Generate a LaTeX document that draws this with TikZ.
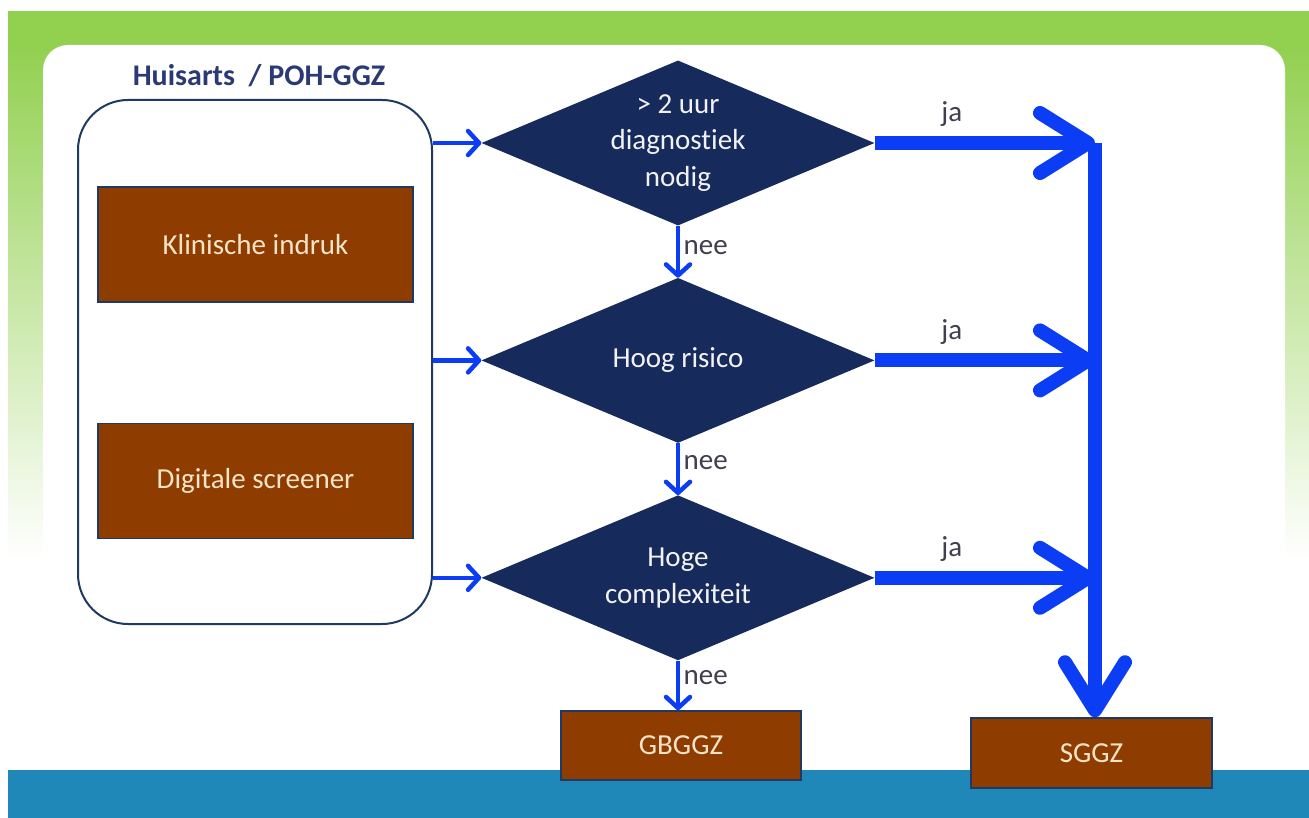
\documentclass[tikz,border=0pt]{standalone}
\usepackage{fontspec}
\setmainfont{Carlito}[Ligatures=NoCommon]
\usepackage{tikz}
\usetikzlibrary{arrows.meta}
\usetikzlibrary{shapes.geometric}
\usetikzlibrary{positioning}

\definecolor{groen}{HTML}{92D050}
\definecolor{balk}{HTML}{1F88B8}
\definecolor{kader}{HTML}{1F3A62}
\definecolor{ruit}{HTML}{172A5C}
\definecolor{bruin}{HTML}{8F3C00}
\definecolor{pijl}{HTML}{0B3DF5}
\definecolor{titel}{HTML}{2B3A75}
\definecolor{etiket}{HTML}{3F3F4F}

\begin{document}
\begin{tikzpicture}[x=1pt, y=-1pt, font=\fontsize{29}{36.5}\selectfont]
	\useasboundingbox (0,0) rectangle (1309,818);
	% achtergrond
	\fill[groen] (8,11) rectangle (1309,46);
	\shade[top color=groen, bottom color=white] (8,45) rectangle (1309,560);
	\fill[white, rounded corners=25pt] (43,45) rectangle (1285,790);
	\fill[balk] (8,770) rectangle (1309,818);

	\node[draw=kader, line width=2pt, rounded corners=50pt,
	      minimum width=354pt, minimum height=524pt] (huisarts) at (255,362) {};
	\node[font=\fontsize{30}{36}\selectfont\bfseries, text=titel] (kop) at (259,76) {Huisarts~ / POH-GGZ};

	\begin{scope}[every node/.style={rectangle, draw=kader, line width=1.5pt, fill=bruin,
	                                 text={rgb,255:red,246;green,228;blue,200}}]
		\node[minimum width=315pt, minimum height=115pt] (klinisch) at (255.5,244.5) {Klinische indruk};
		\node[minimum width=315pt, minimum height=115pt, below=120pt of klinisch] (digitaal) {Digitale screener};
		\node[minimum width=240pt, minimum height=69pt] (gbggz) at (681,745.5) {GBGGZ};
		\node[minimum width=241pt, minimum height=70pt] (sggz) at (1091.5,753) {SGGZ};
	\end{scope}

	\begin{scope}[every node/.style={diamond, fill=ruit, text={rgb,255:red,242;green,242;blue,242},
	                                 align=center, inner sep=0pt, aspect=2.38,
	                                 minimum width=393pt, minimum height=165pt}]
		\node (d1) at (678,143) {> 2 uur\\diagnostiek\\nodig};
		\node[below=52pt of d1] (d2) {Hoog risico};
		\node[below=52pt of d2] (d3) {Hoge\\complexiteit};
	\end{scope}

	\coordinate (knik) at (1095,143);

	\begin{scope}[>={Straight Barb[length=11pt, width=24pt, round]},
	              every node/.style={text=etiket},
	              every edge/.style={draw=pijl, line width=4.5pt}]
		\path (huisarts.east |- d1.west) edge[->] (d1.west);
		\path (huisarts.east |- d2.west) edge[->] (d2.west);
		\path (huisarts.east |- d3.west) edge[->] (d3.west);
		\path (d1.south) edge[->] node[right, pos=0.42] {nee} (d2.north);
		\path (d2.south) edge[->] node[right, pos=0.38] {nee} (d3.north);
		\path (d3.south) edge[->] node[right, pos=0.35] {nee} (d3.south |- gbggz.north);
	\end{scope}

	\begin{scope}[>={Straight Barb[length=48pt, width=60pt, round]},
	              every node/.style={text=etiket},
	              every edge/.style={draw=pijl, line width=14pt}]
		\path (d1.east) edge[->] node[above=6pt, pos=0.35] {ja} (d1.east -| knik);
		\path (d2.east) edge[->] node[above=6pt, pos=0.35] {ja} (d2.east -| knik);
		\path (d3.east) edge[->] node[above=6pt, pos=0.35] {ja} (d3.east -| knik);
		\path (knik) edge[->] (knik |- sggz.north);
	\end{scope}
\end{tikzpicture}
\end{document}
